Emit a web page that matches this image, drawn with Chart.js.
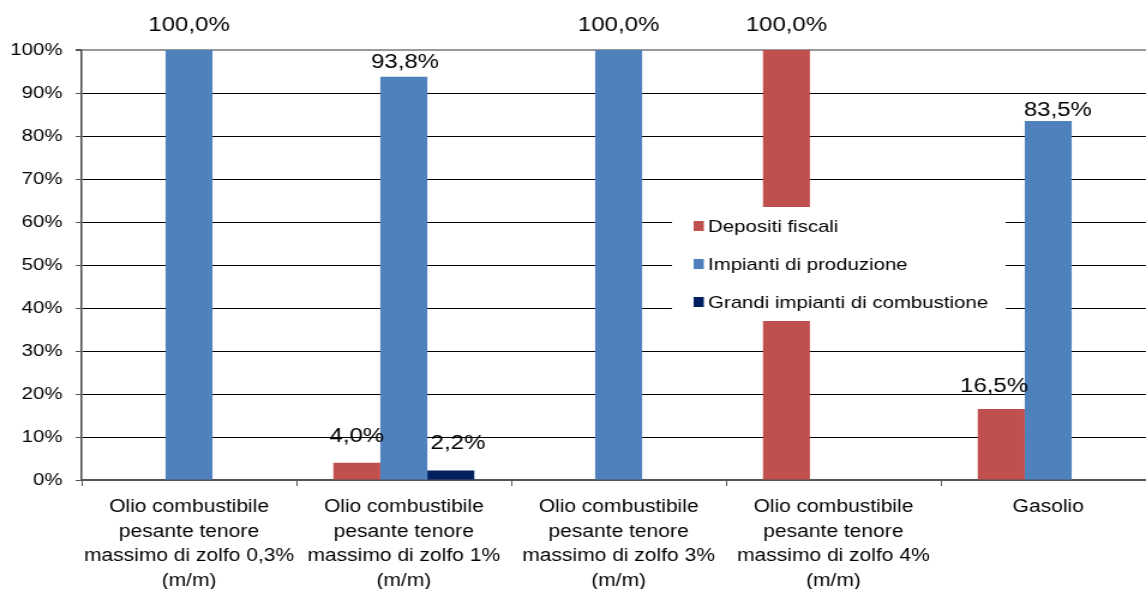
<!DOCTYPE html>
<html>
<head>
<meta charset="utf-8">
<script src="https://cdn.jsdelivr.net/npm/chart.js@4/dist/chart.umd.min.js"></script>
<style>
  html, body { margin: 0; padding: 0; background: #fff; overflow: hidden; }
  /* the original picture is stretched sideways, so draw narrow and widen it */
  #wrap { width: 963px; height: 589px; transform: scaleX(1.2); transform-origin: 0 0; }
</style>
</head>
<body>
<div id="wrap"><canvas id="chart" width="963" height="589"></canvas></div>
<script>
// data
const categories = [
  ["Olio combustibile", "pesante tenore", "massimo di zolfo 0,3%", "(m/m)"],
  ["Olio combustibile", "pesante tenore", "massimo di zolfo 1%", "(m/m)"],
  ["Olio combustibile", "pesante tenore", "massimo di zolfo 3%", "(m/m)"],
  ["Olio combustibile", "pesante tenore", "massimo di zolfo 4%", "(m/m)"],
  "Gasolio"
];
const seriesNames = ["Depositi fiscali", "Impianti di produzione", "Grandi impianti di combustione"];
const depositiFiscali = [0, 4.0, 0, 100, 16.5];
const impiantiProduzione = [100, 93.8, 100, 0, 83.5];
const grandiImpianti = [0, 2.2, 0, 0, 0];
const yTicks = [0, 10, 20, 30, 40, 50, 60, 70, 80, 90, 100];

// styles
const colors = ["#C0504D", "#4F81BD", "#002060"];
const FONT = '"Liberation Sans", Arial, sans-serif';
// label nudges [dx, dy above bar top], one list per series
const labelNudge = [
  [[0, 24], [0, 26], [0, 24], [0, 25], [-6, 23]],
  [[0, 25], [1, 14], [0, 25], [0, 24], [8, 10]],
  [[0, 24], [6, 27], [0, 24], [0, 24], [0, 24]]
];

const fmt = v => v.toFixed(1).replace('.', ',') + '%';

const dataLabels = {
  id: 'dataLabels',
  afterDatasetsDraw(chart) {
    const ctx = chart.ctx;
    ctx.save();
    ctx.font = '20px ' + FONT;
    ctx.fillStyle = '#000';
    ctx.textAlign = 'center';
    ctx.textBaseline = 'middle';
    chart.data.datasets.forEach((ds, i) => {
      chart.getDatasetMeta(i).data.forEach((bar, j) => {
        const v = ds.data[j];
        if (!v) return;
        const [dx, dy] = labelNudge[i][j];
        ctx.fillText(fmt(v), bar.x + dx, bar.y - dy);
      });
    });
    ctx.restore();
  }
};

// legend sits inside the plot on a white box
const boxLegend = {
  id: 'boxLegend',
  afterDatasetsDraw(chart) {
    const ctx = chart.ctx;
    ctx.save();
    ctx.fillStyle = '#fff';
    ctx.fillRect(560, 207, 278, 114);
    ctx.font = '17px ' + FONT;
    ctx.textBaseline = 'middle';
    chart.data.datasets.forEach((ds, i) => {
      const y = 226 + i * 38;
      ctx.fillStyle = ds.backgroundColor;
      ctx.fillRect(578, y - 5, 8.5, 10);
      ctx.fillStyle = '#000';
      ctx.fillText(ds.label, 590, y + 1);
    });
    ctx.restore();
  }
};

new Chart(document.getElementById('chart'), {
  type: 'bar',
  data: {
    labels: categories,
    datasets: [depositiFiscali, impiantiProduzione, grandiImpianti].map((d, i) => ({
      label: seriesNames[i],
      data: d,
      backgroundColor: colors[i],
      barPercentage: 1,
      categoryPercentage: 0.656
    }))
  },
  options: {
    responsive: false,
    animation: false,
    layout: { padding: { top: 50, right: 0, bottom: 0, left: 0 } },
    plugins: { legend: { display: false }, tooltip: { enabled: false } },
    scales: {
      x: {
        grid: { drawOnChartArea: false, tickLength: 6, color: '#555' },
        border: { color: '#555', width: 2 },
        ticks: { color: '#000', padding: 9, font: { family: FONT, size: 17.5, lineHeight: 1.4 }, maxRotation: 0, autoSkip: false },
        afterFit: s => { s.height = 109; }
      },
      y: {
        min: 0,
        max: 100,
        afterBuildTicks: s => { s.ticks = yTicks.map(v => ({ value: v })); },
        grid: {
          color: c => c.tick && c.tick.value === 100 ? '#999' : '#000',
          lineWidth: c => c.tick && c.tick.value === 100 ? 2 : 1,
          tickColor: '#555',
          tickLength: 5
        },
        border: { color: '#555', width: 1.6 },
        ticks: { color: '#000', padding: 11, font: { family: FONT, size: 17 }, callback: v => v + '%' },
        afterFit: s => { s.width = 68; }
      }
    }
  },
  plugins: [dataLabels, boxLegend]
});
</script>
</body>
</html>
